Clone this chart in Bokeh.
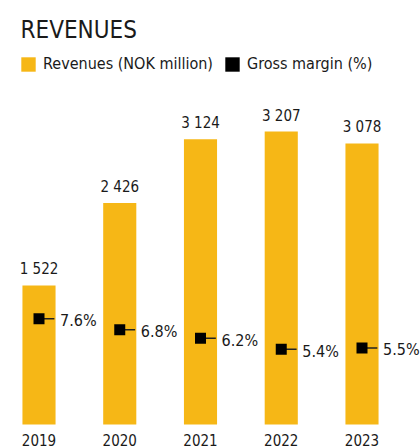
from bokeh.plotting import figure
from bokeh.models import Range1d, ColumnDataSource, Legend, LegendItem, Label
from bokeh.core.properties import value
from bokeh.embed import file_html
from bokeh.resources import INLINE

# ---- data ----
years = [2019, 2020, 2021, 2022, 2023]
year_labels = ["2019", "2020", "2021", "2022", "2023"]
revenues = [1522, 2426, 3124, 3207, 3078]
revenue_labels = ["1 522", "2 426", "3 124", "3 207", "3 078"]
gross_margin = [7.6, 6.8, 6.2, 5.4, 5.5]
margin_labels = ["7.6%", "6.8%", "6.2%", "5.4%", "5.5%"]

# ---- style ----
YELLOW = "#F6B716"
TEXT = "#1a1a1a"
FONT_NAME = "'DejaVu Sans Condensed', Roboto, sans-serif"
FONT = value(FONT_NAME)
W, H = 420, 448
BAR_W = 0.41

src = ColumnDataSource(dict(
    year=years,
    year_label=year_labels,
    revenue=revenues,
    revenue_label=revenue_labels,
    margin=gross_margin,
    margin_label=margin_labels,
    x_end=[y + 0.19 for y in years],
))

# pixel scales
px_per_year = 80.75
first_px = 38.5
base_px = 24           # bar baseline distance from canvas bottom
k_rev = 0.09133        # px per NOK million
k_margin = 13.93       # px per %

p = figure(width=W, height=H, output_backend="svg", toolbar_location=None,
           min_border=0, x_axis_location=None, y_axis_location=None,
           outline_line_color=None,
           x_range=Range1d(years[0] - first_px / px_per_year,
                           years[0] + (W - first_px) / px_per_year),
           y_range=Range1d(-base_px / k_rev, (H - base_px) / k_rev))
p.extra_y_ranges = {"margin": Range1d(-base_px / k_margin, (H - base_px) / k_margin)}
p.xgrid.visible = False
p.ygrid.visible = False

bars = p.vbar(x="year", top="revenue", bottom=0, width=BAR_W, source=src,
              fill_color=YELLOW, line_color=None)

p.segment(x0="year", y0="margin", x1="x_end", y1="margin", source=src,
          y_range_name="margin", line_color="#222222", line_width=1.5)
p.scatter(x="year", y="margin", source=src, y_range_name="margin",
          marker="square", size=11, fill_color="black", line_color=None)

p.text(x="year", y="margin", text="margin_label", source=src, y_range_name="margin",
       x_offset=21, y_offset=2, text_align="left", text_baseline="alphabetic",
       text_font=FONT, text_font_size="16px", text_color=TEXT)

p.text(x="year", y="revenue", text="revenue_label", source=src,
       y_offset=-16, text_align="center", text_baseline="alphabetic",
       text_font=FONT, text_font_size="15px", text_color=TEXT)

p.text(x="year", y=0, text="year_label", source=src,
       y_offset=15, text_align="center", text_baseline="alphabetic",
       text_font=FONT, text_font_size="15px", text_color=TEXT)

proxy = p.vbar(x="year", top="margin", width=BAR_W, source=src, y_range_name="margin",
               fill_color="black", line_color=None, visible=False)

legend = Legend(items=[LegendItem(label="Revenues (NOK million)", renderers=[bars]),
                       LegendItem(label="Gross margin (%)", renderers=[proxy])],
                location=(19, 375), orientation="horizontal",
                glyph_width=18, glyph_height=18, label_standoff=6, spacing=10,
                padding=0, margin=0, border_line_color=None, background_fill_alpha=0,
                label_text_font=FONT_NAME, label_text_font_size="16px",
                label_text_color=TEXT)
p.add_layout(legend)

p.add_layout(Label(x=20, y=419, x_units="screen", y_units="screen", text="REVENUES",
                   text_font=FONT_NAME, text_font_size="24px", text_baseline="alphabetic",
                   text_color=TEXT))

open("out.html", "w").write(file_html(p, INLINE))
